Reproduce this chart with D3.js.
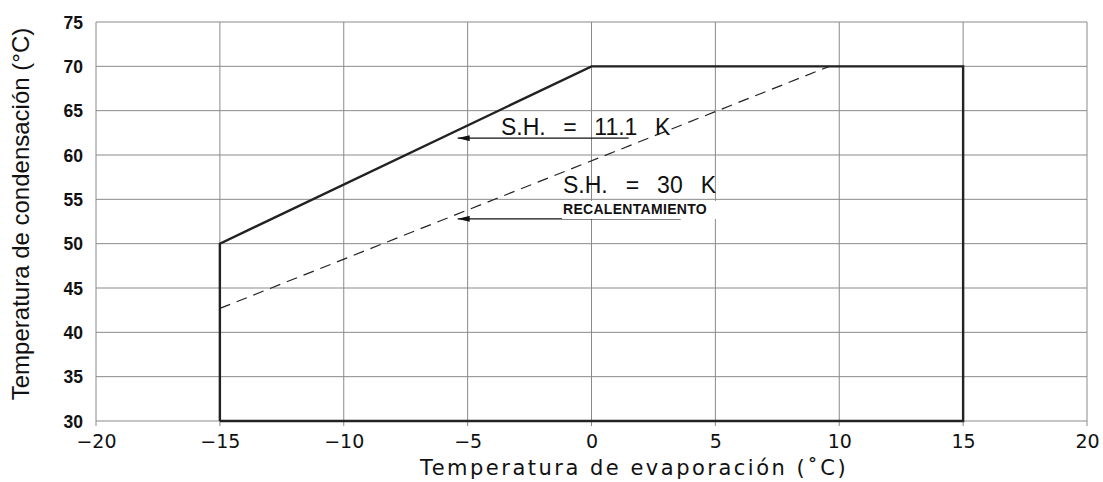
<!DOCTYPE html>
<html>
<head>
<meta charset="utf-8">
<script src="https://cdn.jsdelivr.net/npm/d3@7"></script>
<style>
  body { margin: 0; background: #fff; }
  svg text { fill: #111; }
</style>
</head>
<body>
<svg id="chart" width="1103" height="482"></svg>
<script>
// envelope (solid) and S.H. = 30 K limit (dashed)
var envelopeX = [-15, -15, 0, 15, 15, -15];
var envelopeY = [30, 50, 70, 70, 30, 30];
var dashedX = [-15, 9.6];
var dashedY = [42.7, 70];
var xTicks = [-20, -15, -10, -5, 0, 5, 10, 15, 20];
var yTicks = [30, 35, 40, 45, 50, 55, 60, 65, 70, 75];
// arrows: [from x, to x, at y]
var arrowFromX = [1.5, 3.6];
var arrowToX = [-5.4, -5.4];
var arrowY = [61.9, 52.8];

var svg = d3.select("#chart");
var x = d3.scaleLinear().domain([-20, 20]).range([96, 1087]);
var y = d3.scaleLinear().domain([30, 75]).range([421, 22]);

//grid
svg.append("g").attr("id", "grid")
   .selectAll("line.v").data(xTicks).enter().append("line")
   .attr("x1", function(d){ return x(d); }).attr("x2", function(d){ return x(d); })
   .attr("y1", y(75)).attr("y2", y(30) + 5)
   .attr("stroke", "#8a8a8a").attr("stroke-width", 1);
svg.select("#grid")
   .selectAll("line.h").data(yTicks).enter().append("line")
   .attr("x1", x(-20)).attr("x2", x(20))
   .attr("y1", function(d){ return y(d); }).attr("y2", function(d){ return y(d); })
   .attr("stroke", "#8a8a8a").attr("stroke-width", 1);

//axes (labels only, grid draws the lines)
var xAxis = d3.axisBottom(x).tickValues(xTicks).tickSize(0).tickPadding(14)
              .tickFormat(function(d){ return d < 0 ? "\u2212" + Math.abs(d) : d; });
var yAxis = d3.axisLeft(y).tickValues(yTicks).tickSize(0).tickPadding(13);
var xx = svg.append("g").attr("transform", "translate(0," + y(30) + ")").call(xAxis);
xx.select(".domain").remove();
xx.selectAll("text").attr("font-family", "'DejaVu Sans'").attr("font-size", 19).attr("fill", "#111");
var yx = svg.append("g").attr("transform", "translate(" + x(-20) + ",0)").call(yAxis);
yx.select(".domain").remove();
yx.selectAll("text").attr("font-family", "'Liberation Sans', Arial").attr("font-size", 17.5)
  .attr("font-weight", "bold").attr("fill", "#111").attr("dy", "0.35em");

//axis titles
svg.append("text")
   .attr("transform", "translate(29," + 214 + ") rotate(-90)")
   .attr("text-anchor", "middle")
   .attr("font-family", "'Liberation Sans', Arial").attr("font-size", 24)
   .text("Temperatura de condensación (°C)");
svg.append("text")
   .attr("x", 634).attr("y", 475)
   .attr("text-anchor", "middle")
   .attr("font-family", "'DejaVu Sans'").attr("font-size", 21)
   .attr("letter-spacing", 2.5)
   .text("Temperatura de evaporación (˚C)");

//lines
var line = d3.line().x(function(d){ return x(d[0]); }).y(function(d){ return y(d[1]); });
svg.append("path")
   .datum(d3.zip(envelopeX, envelopeY))
   .attr("d", line).attr("fill", "none")
   .attr("stroke", "#222").attr("stroke-width", 2.4).attr("stroke-linejoin", "miter");
svg.append("path")
   .datum(d3.zip(dashedX, dashedY))
   .attr("d", line).attr("fill", "none")
   .attr("stroke", "#222").attr("stroke-width", 1.2).attr("stroke-dasharray", "11,7");

//arrows
svg.append("defs").append("marker")
   .attr("id", "head").attr("viewBox", "0 0 12 6").attr("refX", 12).attr("refY", 3)
   .attr("markerWidth", 12).attr("markerHeight", 6).attr("markerUnits", "userSpaceOnUse")
   .attr("orient", "auto")
   .append("path").attr("d", "M12,3 L0,0 L0,6 Z").attr("fill", "#111");
svg.append("g").selectAll("line").data(arrowY).enter().append("line")
   .attr("x1", function(d, i){ return x(arrowFromX[i]); })
   .attr("x2", function(d, i){ return x(arrowToX[i]); })
   .attr("y1", function(d){ return y(d); }).attr("y2", function(d){ return y(d); })
   .attr("stroke", "#111").attr("stroke-width", 1.2)
   .attr("marker-end", "url(#head)");

//labels
svg.append("rect").attr("x", 562).attr("y", 201).attr("width", 156).attr("height", 18).attr("fill", "#fff");
svg.append("text").attr("x", 501).attr("y", 135)
   .attr("font-family", "'Liberation Sans', Arial").attr("font-size", 23)
   .attr("word-spacing", 2.4).style("white-space", "pre")
   .text("S.H.  =  11.1  K");
svg.append("text").attr("x", 563).attr("y", 193)
   .attr("font-family", "'Liberation Sans', Arial").attr("font-size", 23)
   .attr("word-spacing", 2.6).style("white-space", "pre")
   .text("S.H.  =  30  K");
svg.append("text").attr("x", 563).attr("y", 214)
   .attr("font-family", "'Liberation Sans', Arial").attr("font-size", 14)
   .attr("font-weight", "bold").attr("letter-spacing", 0.3)
   .text("RECALENTAMIENTO");
</script>
</body>
</html>
